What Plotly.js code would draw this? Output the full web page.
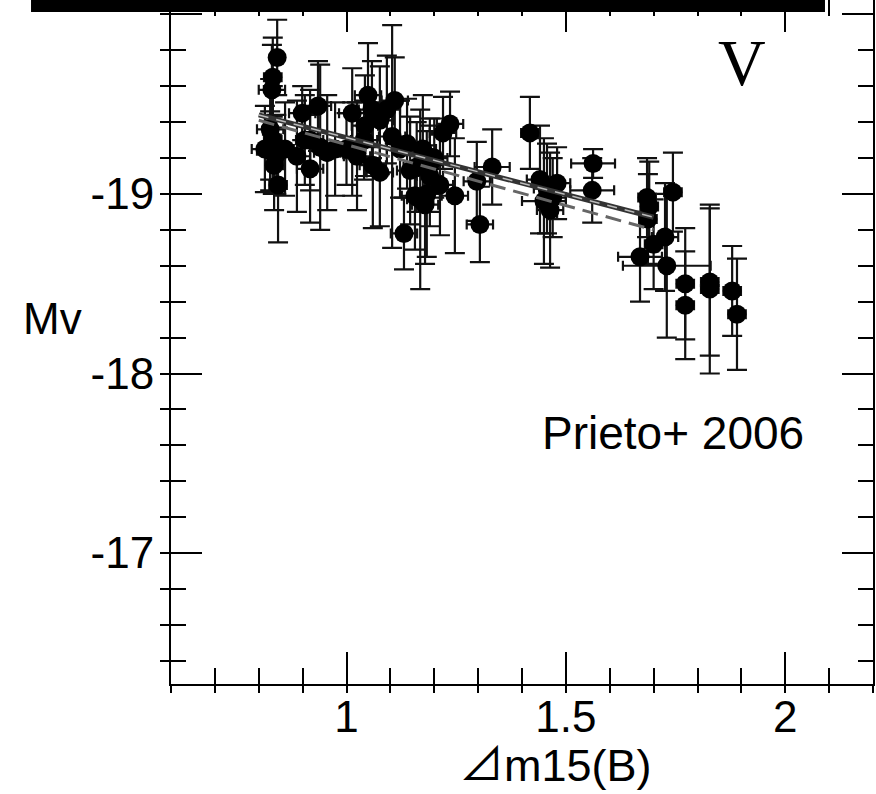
<!DOCTYPE html>
<html>
<head>
<meta charset="utf-8">
<script src="https://cdn.plot.ly/plotly-3.0.1.min.js"></script>
<style>html,body{margin:0;padding:0;background:#fff;}#chart{width:876px;height:794px;}</style>
</head>
<body>
<div id="chart"></div>
<script>
// Δm15(B) decline rate
const dm15 = [0.842,0.832,0.830,0.826,0.832,0.826,0.835,0.844,0.840,0.814,0.860,
  0.899,0.935,0.887,0.940,0.956,0.917,0.905,0.917,0.974,
  1.013,1.049,1.092,1.024,1.060,1.104,1.076,1.131,1.040,1.000,1.013,1.042,1.076,1.110,1.058,
  1.174,1.138,1.183,1.168,1.190,1.160,1.236,1.220,1.247,1.200,1.122,1.145,1.190,1.213,1.156,1.179,
  1.297,1.304,1.332,
  1.418,1.441,1.457,1.464,1.480,1.470,1.450,
  1.562,1.560,
  1.685,1.687,1.669,1.726,1.730,1.744,1.690,1.700,
  1.772,1.772,1.828,1.828,1.879,1.890];
// absolute V magnitude
const mv = [-19.76,-19.65,-19.58,-19.36,-19.30,-19.24,-19.16,-19.05,-19.22,-19.25,-19.25,
  -19.45,-19.49,-19.21,-19.26,-19.23,-19.14,-19.30,-19.30,-19.25,
  -19.45,-19.55,-19.47,-19.21,-19.16,-19.32,-19.12,-18.78,-19.30,-19.25,-19.25,-19.38,-19.41,-19.52,-19.47,
  -19.25,-19.28,-19.00,-18.97,-19.10,-19.15,-19.39,-19.34,-18.99,-19.20,-19.25,-19.13,-19.16,-19.05,-18.99,-18.94,
  -19.07,-18.83,-19.15,
  -19.34,-19.08,-19.03,-18.91,-19.06,-18.98,-18.96,
  -19.17,-19.02,
  -18.98,-18.86,-18.65,-18.76,-18.60,-19.01,-18.93,-18.72,
  -18.50,-18.38,-18.51,-18.47,-18.46,-18.33];
const dm15Err = [0.00,0.02,0.03,0.03,0.02,0.03,0.02,0.02,0.02,0.03,0.02,
  0.03,0.03,0.03,0.04,0.03,0.03,0.02,0.03,0.03,
  0.03,0.03,0.03,0.03,0.03,0.03,0.03,0.03,0.03,0.04,0.03,0.03,0.03,0.03,0.03,
  0.03,0.03,0.03,0.03,0.03,0.03,0.03,0.03,0.03,0.03,0.03,0.03,0.03,0.03,0.03,0.03,
  0.03,0.03,0.04,
  0.02,0.03,0.03,0.03,0.03,0.03,0.05,
  0.05,0.05,
  0.02,0.02,0.05,0.03,0.10,0.02,0.02,0.02,
  0.02,0.02,0.02,0.02,0.02,0.02];
const mvErr = [0.21,0.22,0.25,0.28,0.30,0.22,0.25,0.32,0.22,0.24,0.26,
  0.15,0.25,0.31,0.46,0.32,0.30,0.25,0.28,0.26,
  0.25,0.29,0.30,0.30,0.35,0.62,0.30,0.20,0.22,0.20,0.26,0.28,0.30,0.24,0.27,
  0.30,0.25,0.35,0.50,0.28,0.25,0.18,0.20,0.32,0.22,0.27,0.30,0.26,0.28,0.30,0.33,
  0.22,0.21,0.21,
  0.20,0.30,0.25,0.32,0.20,0.22,0.35,
  0.08,0.18,
  0.22,0.25,0.25,0.30,0.40,0.22,0.25,0.25,
  0.31,0.30,0.41,0.47,0.25,0.31];
// fitted relations
const fitX = [0.80, 1.70];
const fitSolid = [-19.44, -18.87];
const fitDashed = [-19.41, -18.80];
// axis ticks
const yTickVals = [-20, -19, -18, -17];
const yTickText = ['', '-19', '-18', '-17'];
const xRange = [0.6, 2.2];
const yRange = [-16.271, -20.08];

const FONT = 'Liberation Sans, Arial, sans-serif';
const traces = [
  {x: dm15, y: mv, type: 'scatter', mode: 'markers',
   marker: {color: '#000', size: 19},
   error_y: {type: 'data', array: mvErr, visible: true, color: '#111', thickness: 2.2, width: 10},
   error_x: {type: 'data', array: dm15Err, visible: true, color: '#111', thickness: 2.2, width: 5},
   showlegend: false},
  {x: fitX, y: fitSolid, type: 'scatter', mode: 'lines',
   line: {color: '#333', width: 5}, showlegend: false},
  {x: fitX, y: fitSolid, type: 'scatter', mode: 'lines',
   line: {color: '#bbb', width: 1.5, dash: '10px,8px'}, showlegend: false},
  {x: fitX, y: fitDashed, type: 'scatter', mode: 'lines',
   line: {color: '#666', width: 3, dash: '16px,8px'}, showlegend: false},
  {x: [], y: [], xaxis: 'x2', yaxis: 'y2', type: 'scatter', mode: 'markers', showlegend: false}
];

const layout = {
  width: 876, height: 794,
  margin: {l: 171, r: 3, t: 0, b: 110},
  paper_bgcolor: '#fff', plot_bgcolor: '#fff',
  font: {family: FONT, color: '#000'},
  xaxis: {range: xRange, showgrid: false, zeroline: false,
    showline: true, linecolor: '#000', linewidth: 2, mirror: 'ticks',
    ticks: 'inside', ticklen: 32, tickwidth: 2, tickcolor: '#000',
    tick0: 0, dtick: 0.5, tickfont: {family: FONT, size: 44, color: '#000'},
    ticklabelstandoff: -7,
    minor: {ticks: 'inside', ticklen: 16, tickwidth: 2, tickcolor: '#000', dtick: 0.1, tick0: 0, showgrid: false}},
  yaxis: {range: yRange, showgrid: false, zeroline: false,
    showline: true, linecolor: '#000', linewidth: 2, mirror: 'ticks',
    ticks: 'inside', ticklen: 31, tickwidth: 2, tickcolor: '#000',
    tickmode: 'array', tickvals: yTickVals, ticktext: yTickText,
    tickfont: {family: FONT, size: 44, color: '#000'},
    ticklabelstandoff: 6,
    minor: {ticks: 'inside', ticklen: 15, tickwidth: 2, tickcolor: '#000', tickmode: 'linear', tick0: 0, dtick: 0.2, showgrid: false}},
  xaxis2: {range: xRange, overlaying: 'x', anchor: 'y', side: 'bottom', showgrid: false, zeroline: false,
    showline: false, showticklabels: false, ticks: 'outside', ticklen: 8, tickwidth: 2, tickcolor: '#000',
    tick0: 0, dtick: 0.5,
    minor: {ticks: 'outside', ticklen: 8, tickwidth: 2, tickcolor: '#000', dtick: 0.1, tick0: 0, showgrid: false}},
  yaxis2: {range: yRange, overlaying: 'y', anchor: 'x', side: 'left', showgrid: false, zeroline: false,
    showline: false, showticklabels: false, ticks: 'outside', ticklen: 10, tickwidth: 2, tickcolor: '#000',
    tickmode: 'array', tickvals: yTickVals,
    minor: {ticks: 'outside', ticklen: 10, tickwidth: 2, tickcolor: '#000', tickmode: 'linear', tick0: 0, dtick: 0.2, showgrid: false}},
  shapes: [
    {type: 'rect', xref: 'paper', yref: 'paper', x0: -0.1994, x1: 0.9316, y0: 0.9825, y1: 1.01,
     fillcolor: '#000', line: {width: 0}, layer: 'above'}
  ],
  annotations: [
    {text: 'V', xref: 'paper', yref: 'paper', x: 0.813, y: 0.909, showarrow: false,
     xanchor: 'center', yanchor: 'middle', font: {family: 'Liberation Serif, Times New Roman, serif', size: 66, color: '#000'}},
    {text: 'Prieto+ 2006', xref: 'paper', yref: 'paper', x: 0.715, y: 0.367, showarrow: false,
     xanchor: 'center', yanchor: 'middle', font: {family: FONT, size: 46, color: '#000'}},
    {text: 'Mv', xref: 'paper', yref: 'paper', x: -0.1695, y: 0.535, showarrow: false,
     xanchor: 'center', yanchor: 'middle', font: {family: FONT, size: 44, color: '#000'}},
    {text: '⊿m15(B)', xref: 'paper', yref: 'paper', x: 0.548, y: -0.119, showarrow: false,
     xanchor: 'center', yanchor: 'middle', font: {family: 'Liberation Sans, Noto Sans CJK JP, sans-serif', size: 45, color: '#000'}}
  ]
};

Plotly.newPlot('chart', traces, layout, {displayModeBar: false, staticPlot: true});
</script>
</body>
</html>
